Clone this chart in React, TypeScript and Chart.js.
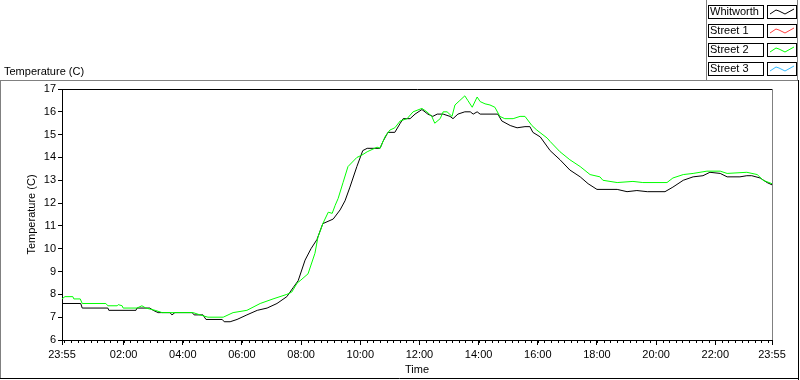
import React, { useEffect, useRef } from "react";
import { Chart, registerables } from "chart.js";

Chart.register(...registerables);

// ---- Data ----
const seriesNames = ["Whitworth", "Street 1", "Street 2", "Street 3"];
const seriesColors = ["#000000", "#ff4040", "#00ff00", "#33bbff"];

// minutes elapsed since 23:55
const whitworthMinutes = [0, 38, 41, 93, 95, 150, 152, 178, 185, 195, 219, 223, 229, 264, 268, 286, 292, 325, 329, 341, 355, 375, 396, 416, 436, 456, 469, 479, 493, 505, 517, 529, 550, 564, 574, 584, 598, 610, 619, 645, 651, 661, 675, 686, 692, 706, 716, 730, 742, 752, 761, 773, 787, 793, 803, 817, 828, 834, 842, 848, 884, 892, 909, 923, 939, 949, 955, 970, 990, 1010, 1030, 1051, 1067, 1085, 1126, 1146, 1166, 1187, 1223, 1239, 1260, 1280, 1300, 1314, 1335, 1349, 1375, 1389, 1399, 1416, 1430, 1440];
const whitworthTemps = [7.6, 7.6, 7.4, 7.4, 7.3, 7.3, 7.4, 7.4, 7.3, 7.2, 7.2, 7.1, 7.2, 7.2, 7.1, 7.1, 6.9, 6.9, 6.8, 6.8, 6.9, 7.1, 7.3, 7.4, 7.6, 7.9, 8.3, 8.6, 9.5, 10.0, 10.4, 11.1, 11.3, 11.7, 12.1, 12.7, 13.6, 14.3, 14.4, 14.4, 14.7, 15.1, 15.1, 15.5, 15.7, 15.7, 15.9, 16.1, 15.9, 15.8, 15.9, 15.9, 15.8, 15.7, 15.9, 16.0, 16.0, 15.9, 16.0, 15.9, 15.9, 15.6, 15.4, 15.3, 15.35, 15.35, 15.1, 14.9, 14.3, 13.9, 13.45, 13.15, 12.85, 12.6, 12.6, 12.5, 12.55, 12.5, 12.5, 12.7, 13.0, 13.15, 13.2, 13.35, 13.3, 13.15, 13.15, 13.2, 13.2, 13.1, 12.9, 12.8];

const street1Minutes: number[] = [];
const street1Temps: number[] = [];

const street2Minutes = [0, 6, 22, 24, 37, 41, 89, 93, 112, 114, 122, 124, 152, 162, 170, 189, 203, 266, 280, 296, 327, 347, 375, 402, 428, 456, 466, 477, 483, 499, 513, 519, 529, 540, 548, 554, 560, 570, 580, 598, 608, 619, 639, 645, 655, 665, 675, 686, 700, 712, 730, 740, 750, 756, 767, 773, 781, 791, 797, 807, 817, 823, 832, 842, 848, 858, 868, 878, 888, 898, 915, 929, 939, 953, 963, 984, 990, 1010, 1030, 1051, 1071, 1091, 1097, 1126, 1158, 1178, 1227, 1239, 1260, 1280, 1308, 1335, 1349, 1389, 1410, 1422, 1440];
const street2Temps = [7.8, 7.9, 7.9, 7.8, 7.8, 7.6, 7.6, 7.5, 7.5, 7.55, 7.5, 7.4, 7.4, 7.5, 7.4, 7.3, 7.2, 7.2, 7.1, 7.0, 7.0, 7.2, 7.3, 7.6, 7.8, 8.0, 8.1, 8.5, 8.6, 8.9, 9.8, 10.5, 11.1, 11.6, 11.55, 11.9, 12.2, 12.9, 13.6, 14.0, 14.1, 14.25, 14.45, 14.4, 14.9, 15.2, 15.3, 15.6, 15.7, 16.0, 16.15, 16.0, 15.8, 15.5, 15.7, 16.0, 16.0, 15.8, 16.3, 16.5, 16.7, 16.5, 16.2, 16.65, 16.45, 16.35, 16.3, 16.2, 15.8, 15.7, 15.7, 15.8, 15.8, 15.4, 15.2, 14.85, 14.7, 14.25, 13.9, 13.6, 13.25, 13.15, 13.0, 12.9, 12.95, 12.9, 12.9, 13.1, 13.25, 13.3, 13.4, 13.4, 13.3, 13.35, 13.25, 13.0, 12.85];

const street3Minutes: number[] = [];
const street3Temps: number[] = [];

const xTickMinutes = [0, 125, 245, 365, 485, 605, 725, 845, 965, 1085, 1205, 1325, 1440];
const xTickLabels = ["23:55", "02:00", "04:00", "06:00", "08:00", "10:00", "12:00", "14:00", "16:00", "18:00", "20:00", "22:00", "23:55"];
const xMinorFirst = 5;
const xMinorStep = 40 / 3;
const yMin = 6;
const yMax = 17;

const chartTitle = "Temperature (C)";
const yAxisTitle = "Temperature (C)";
const xAxisTitle = "Time";

const FONT = "Liberation Sans";

function toPoints(xs: number[], ys: number[]) {
  return xs.map((x, i) => ({ x, y: ys[i] }));
}

const seriesData = [
  toPoints(whitworthMinutes, whitworthTemps),
  toPoints(street1Minutes, street1Temps),
  toPoints(street2Minutes, street2Temps),
  toPoints(street3Minutes, street3Temps),
];

const framePlugin = {
  id: "labviewFrame",
  afterDraw(chart: any) {
    const ctx: CanvasRenderingContext2D = chart.ctx;
    const { left, top, right, bottom } = chart.chartArea;
    const line = (x1: number, y1: number, x2: number, y2: number, color: string) => {
      ctx.strokeStyle = color;
      ctx.lineWidth = 1;
      ctx.beginPath();
      ctx.moveTo(x1, y1);
      ctx.lineTo(x2, y2);
      ctx.stroke();
    };
    ctx.save();
    // plot area border: black top, gray right
    line(left, Math.round(top) + 0.5, Math.round(right) + 1, Math.round(top) + 0.5, "#000000");
    line(Math.round(right) + 0.5, top, Math.round(right) + 0.5, bottom, "#808080");

    // minor ticks on x axis
    const xs = chart.scales.x;
    for (let m = xMinorFirst; m < 1440; m += xMinorStep) {
      const px = Math.round(xs.getPixelForValue(m)) + 0.5;
      line(px, bottom, px, bottom + 3, "#000000");
    }

    // outer panel frame
    line(0, 80.5, 798, 80.5, "#808080");
    line(0.5, 80, 0.5, 378, "#808080");
    line(798.5, 80, 798.5, 380, "#000000");
    line(0, 378.5, 799, 378.5, "#000000");

    // chart title
    ctx.fillStyle = "#000000";
    ctx.font = `11px "${FONT}"`;
    ctx.textBaseline = "middle";
    ctx.textAlign = "left";
    ctx.fillText(chartTitle, 4, 72);

    // legend panel
    line(706.5, 0, 706.5, 80, "#808080");
    line(797.5, 0, 797.5, 80, "#808080");
    for (let i = 0; i < seriesNames.length; i++) {
      const y0 = 5 + i * 19;
      ctx.fillStyle = "#ffffff";
      ctx.fillRect(708, y0, 55, 13);
      ctx.fillRect(767, y0, 29, 13);
      ctx.strokeStyle = "#000000";
      ctx.strokeRect(708.5, y0 + 0.5, 55, 13);
      ctx.strokeRect(767.5, y0 + 0.5, 29, 13);
      ctx.fillStyle = "#000000";
      ctx.fillText(seriesNames[i], 710, y0 + 7);
      ctx.strokeStyle = seriesColors[i];
      ctx.beginPath();
      ctx.moveTo(770, y0 + 9);
      ctx.lineTo(776, y0 + 5);
      ctx.lineTo(779, y0 + 6);
      ctx.lineTo(785, y0 + 9);
      ctx.lineTo(794, y0 + 4);
      ctx.stroke();
    }
    ctx.restore();
  },
};

export default function App() {
  const canvasRef = useRef<HTMLCanvasElement | null>(null);

  useEffect(() => {
    document.body.style.margin = "0";
    const canvas = canvasRef.current;
    if (!canvas) return;
    const chart = new Chart(canvas, {
      type: "line",
      data: {
        datasets: seriesNames.map((name, i) => ({
          label: name,
          data: seriesData[i],
          borderColor: seriesColors[i],
          backgroundColor: seriesColors[i],
          borderWidth: 1,
          pointRadius: 0,
          tension: 0,
          fill: false,
          order: seriesNames.length - i,
        })),
      },
      options: {
        responsive: false,
        animation: false,
        devicePixelRatio: 1,
        layout: { padding: { left: 0, top: 89, right: 28, bottom: 0 } },
        plugins: {
          legend: { display: false },
          title: { display: false },
          tooltip: { enabled: false },
        },
        scales: {
          x: {
            type: "linear",
            min: 0,
            max: 1440,
            afterFit: (scale: any) => {
              scale.height = 40;
            },
            afterBuildTicks: (scale: any) => {
              scale.ticks = xTickMinutes.map((v) => ({ value: v }));
            },
            ticks: {
              autoSkip: false,
              maxRotation: 0,
              padding: 3,
              color: "#000000",
              font: { family: FONT, size: 11 },
              callback: (_v: any, index: number) => xTickLabels[index],
            },
            grid: {
              drawOnChartArea: false,
              drawTicks: true,
              tickLength: 5,
              color: "#000000",
              tickColor: "#000000",
            },
            border: { display: true, color: "#000000", width: 1 },
            title: {
              display: true,
              text: xAxisTitle,
              color: "#000000",
              font: { family: FONT, size: 11 },
              padding: { top: 0, bottom: 3 },
            },
          },
          y: {
            type: "linear",
            min: yMin,
            max: yMax,
            afterFit: (scale: any) => {
              scale.width = 62;
            },
            ticks: {
              stepSize: 1,
              padding: 2,
              color: "#000000",
              font: { family: FONT, size: 11 },
            },
            grid: {
              drawOnChartArea: false,
              drawTicks: true,
              tickLength: 4,
              color: "#000000",
              tickColor: "#000000",
            },
            border: { display: true, color: "#000000", width: 1 },
            title: {
              display: true,
              text: yAxisTitle,
              color: "#000000",
              font: { family: FONT, size: 11 },
              padding: { top: 25, bottom: 0 },
            },
          },
        },
      },
      plugins: [framePlugin],
    } as any);
    return () => chart.destroy();
  }, []);

  return (
    <div style={{ width: 800, height: 380 }}>
      <canvas ref={canvasRef} width={800} height={380} style={{ display: "block" }} />
    </div>
  );
}
